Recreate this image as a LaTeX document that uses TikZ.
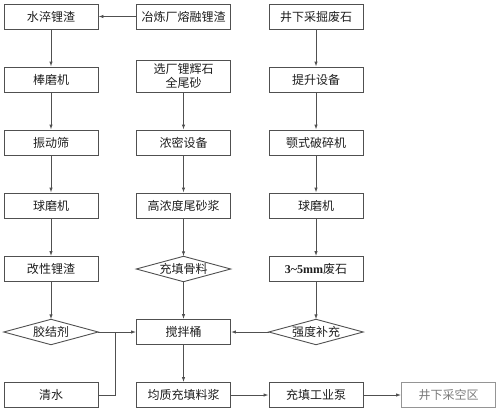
\documentclass[tikz,border=0pt]{standalone}
\usepackage{fontspec}
\setmainfont{Noto Sans CJK SC}
\newfontfamily\latf{Liberation Serif}
\usetikzlibrary{arrows.meta}
\definecolor{lc}{HTML}{505050}
\definecolor{tc}{HTML}{1E1E1E}
\definecolor{lt}{HTML}{7A7A7A}
\tikzset{
  box/.style={draw=lc, line width=0.9pt, minimum width=94pt, minimum height=25pt, inner sep=0pt, text=tc, font=\fontsize{12}{13}\selectfont, align=center},
  dia/.style={draw=none, minimum width=94pt, minimum height=25pt, inner sep=0pt, text=tc, font=\fontsize{12}{13}\selectfont},
  dline/.style={draw=lc, line width=0.9pt},
  arr/.style={draw=lc, line width=0.9pt, -{Latex[length=5pt,width=3.5pt]}},
  ln/.style={draw=lc, line width=0.9pt}
}
\begin{document}
\begin{tikzpicture}[x=1pt,y=-1pt]
\useasboundingbox (0,0) rectangle (500,412);
% left column
\node[box] (l1) at (51,16.5) {水淬锂渣};
\node[box] (l2) at (51,79.5) {棒磨机};
\node[box] (l3) at (51,142.5) {振动筛};
\node[box] (l4) at (51,205.5) {球磨机};
\node[box] (l5) at (51,269) {改性锂渣};
\node[dia] (l6) at (51,332) {胶结剂};
\node[box] (l7) at (51,395) {清水};
% middle column
\node[box] (m1) at (183.5,16.5) {冶炼厂熔融锂渣};
\node[box, minimum height=32pt, font=\fontsize{12}{14}\selectfont] (m2) at (183.5,76) {选厂锂辉石\\全尾砂};
\node[box] (m3) at (183.5,142.5) {浓密设备};
\node[box] (m4) at (183.5,205.5) {高浓度尾砂浆};
\node[dia] (m5) at (183.5,269) {充填骨料};
\node[box] (m6) at (183.5,332) {搅拌桶};
\node[box] (m7) at (183.5,395) {均质充填料浆};
% right column
\node[box] (r1) at (316,16.5) {井下采掘废石};
\node[box] (r2) at (316,79.5) {提升设备};
\node[box] (r3) at (316,142.5) {颚式破碎机};
\node[box] (r4) at (316,205.5) {球磨机};
\node[box] (r5) at (316,269) {{\latf\bfseries 3\textasciitilde 5mm}废石};
\node[dia] (r6) at (316,332) {强度补充};
\node[box] (r7) at (316,395) {充填工业泵};
\node[box, draw=lt!80, text=lt] (g) at (448.5,395) {井下采空区};
% diamonds
\foreach \d in {l6,m5,r6}{
  \draw[dline] (\d.west) -- (\d.north) -- (\d.east) -- (\d.south) -- cycle;
}
% connectors
\draw[arr] (m1) -- (l1);
\draw[arr] (l1) -- (l2);
\draw[arr] (l2) -- (l3);
\draw[arr] (l3) -- (l4);
\draw[arr] (l4) -- (l5);
\draw[arr] (l5) -- (l6.north);
\draw[arr] (m2) -- (m3);
\draw[arr] (m3) -- (m4);
\draw[arr] (m4) -- (m5.north);
\draw[arr] (m5.south) -- (m6);
\draw[arr] (m6) -- (m7);
\draw[arr] (r1) -- (r2);
\draw[arr] (r2) -- (r3);
\draw[arr] (r3) -- (r4);
\draw[arr] (r4) -- (r5);
\draw[arr] (r5) -- (r6.north);
\draw[arr] (l6.east) -- (m6.west);
\draw[arr] (r6.west) -- (m6.east);
\coordinate (jn) at (115,332);
\draw[ln] (l7.east) -| (jn);
\draw[arr] (m7) -- (r7);
\draw[arr] (r7) -- (g);
\end{tikzpicture}
\end{document}
